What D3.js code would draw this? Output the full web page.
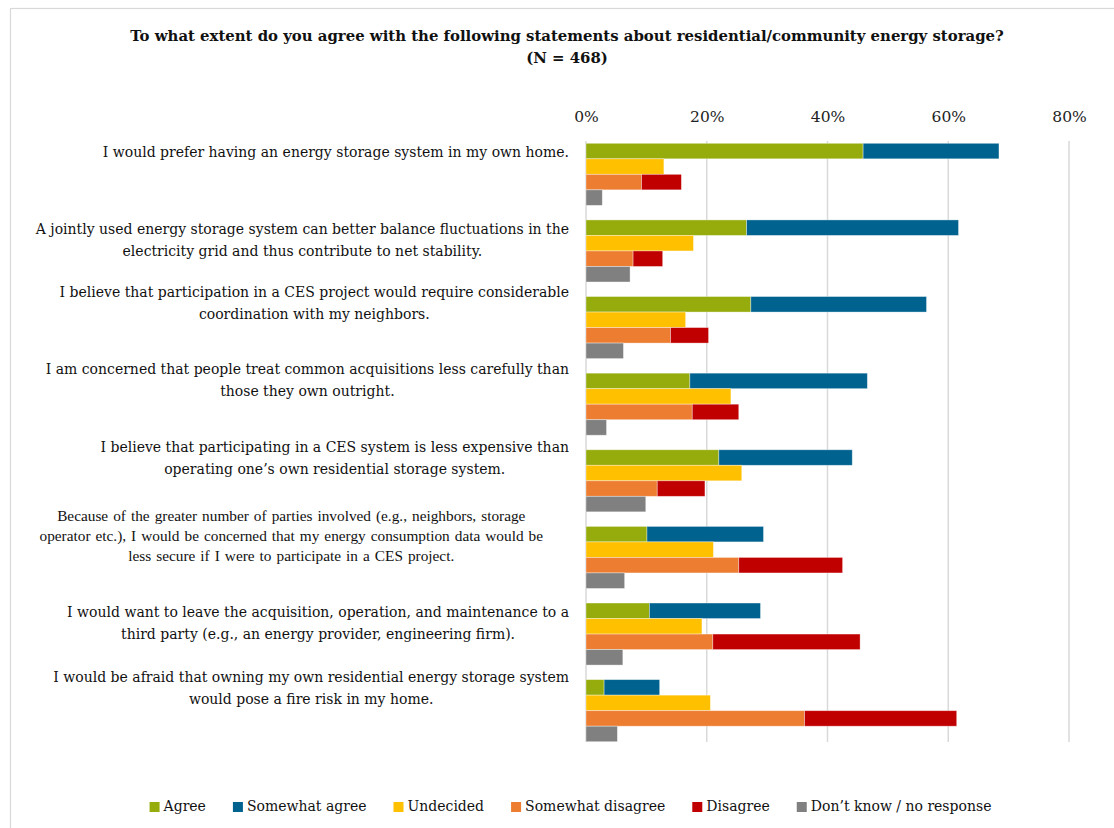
<!DOCTYPE html>
<html><head><meta charset="utf-8">
<script src="https://cdn.jsdelivr.net/npm/d3@7"></script>
<style>body{margin:0;background:#fff} svg{display:block}</style>
</head><body><svg id="c" width="1114" height="828"></svg>
<script>
// ---------- data ----------
const categories = [
  "I would prefer having an energy storage system in my own home.",
  "A jointly used energy storage system can better balance fluctuations in the\nelectricity grid and thus contribute to net stability.",
  "I believe that participation in a CES project would require considerable\ncoordination with my neighbors.",
  "I am concerned that people treat common acquisitions less carefully than\nthose they own outright.",
  "I believe that participating in a CES system is less expensive than\noperating one\u2019s own residential storage system.",
  "Because of the greater number of parties involved (e.g., neighbors, storage\noperator etc.), I would be concerned that my energy consumption data would be\nless secure if I were to participate in a CES project.",
  "I would want to leave the acquisition, operation, and maintenance to a\nthird party (e.g., an energy provider, engineering firm).",
  "I would be afraid that owning my own residential energy storage system\nwould pose a fire risk in my home."
];
const agree            = [45.9, 26.6, 27.3, 17.2, 22.0, 10.1, 10.5,  3.0];
const somewhatAgree    = [22.5, 35.1, 29.1, 29.4, 22.1, 19.3, 18.4,  9.2];
const undecided        = [12.9, 17.8, 16.5, 24.0, 25.8, 21.1, 19.2, 20.6];
const somewhatDisagree = [ 9.2,  7.8, 14.0, 17.6, 11.8, 25.3, 21.0, 36.2];
const disagree         = [ 6.6,  4.9,  6.3,  7.7,  7.9, 17.2, 24.4, 25.2];
const dontKnow         = [ 2.7,  7.3,  6.2,  3.4,  9.9,  6.4,  6.1,  5.2];
const seriesNames = ["Agree", "Somewhat agree", "Undecided", "Somewhat disagree", "Disagree", "Don\u2019t know / no response"];
const tickValues = [0, 20, 40, 60, 80];
const title = "To what extent do you agree with the following statements about residential/community energy storage?";
const subtitle = "(N = 468)";

// ---------- layout / style ----------
const colors = ["#95AC0C", "#00628F", "#FFC000", "#ED7D31", "#C00000", "#808080"];
const labelCenterOffset = [9, 20, 6.5, 7, 8, 9, 20, 8.5];
const serif = "'DejaVu Serif', serif";

const svg = d3.select("#c");
svg.append("rect").attr("x", 10.5).attr("y", 8.5).attr("width", 1130).attr("height", 840)
  .attr("fill", "#fff").attr("stroke", "#d9d9d9").attr("stroke-width", 1.2);

const x = d3.scaleLinear().domain([0, 80]).range([586, 1069]);
const y = d3.scaleBand().domain(d3.range(categories.length)).range([141, 744]).paddingInner(0.19).paddingOuter(0.03);
const row = d3.scaleBand().domain([0, 1, 2, 3]).range([0, y.bandwidth()]);

// title
svg.append("text").attr("x", 567).attr("y", 41).attr("text-anchor", "middle")
  .attr("font-family", serif).attr("font-weight", "bold").attr("font-size", 14.9).attr("fill", "#111")
  .text(title);
svg.append("text").attr("x", 567).attr("y", 63).attr("text-anchor", "middle")
  .attr("font-family", serif).attr("font-weight", "bold").attr("font-size", 14.9).attr("fill", "#111")
  .text(subtitle);

// gridlines
svg.append("g").selectAll("line").data(tickValues).join("line")
  .attr("x1", d => x(d)).attr("x2", d => x(d))
  .attr("y1", y.range()[0]).attr("y2", y.range()[1] - 2)
  .attr("stroke", "#d9d9d9").attr("stroke-width", 1.5);

// top axis labels
const axis = d3.axisTop(x).tickValues(tickValues).tickFormat(d => d + "%").tickSize(0).tickPadding(0);
const ag = svg.append("g").attr("transform", "translate(0,122)").call(axis);
ag.select(".domain").remove();
ag.selectAll("text").attr("font-family", serif).attr("font-size", 15.5).attr("fill", "#222").attr("dy", 0);

// bars
const segs = [];
categories.forEach((c, i) => {
  segs.push({i, r: 0, s: 0, v: agree[i], k: 0});
  segs.push({i, r: 0, s: agree[i], v: somewhatAgree[i], k: 1});
  segs.push({i, r: 1, s: 0, v: undecided[i], k: 2});
  segs.push({i, r: 2, s: 0, v: somewhatDisagree[i], k: 3});
  segs.push({i, r: 2, s: somewhatDisagree[i], v: disagree[i], k: 4});
  segs.push({i, r: 3, s: 0, v: dontKnow[i], k: 5});
});
svg.append("g").selectAll("rect").data(segs).join("rect")
  .attr("x", d => x(d.s)).attr("width", d => x(d.s + d.v) - x(d.s))
  .attr("y", d => y(d.i) + row(d.r)).attr("height", row.bandwidth())
  .attr("fill", d => colors[d.k])
  .attr("stroke", "#fff").attr("stroke-opacity", 0.45).attr("stroke-width", 0.8);

// category labels
categories.forEach((c, i) => {
  const lines = c.split("\n");
  const times = lines.length > 2;
  const lh = times ? 20 : 22;
  const g = svg.append("g");
  const t = g.append("text").attr("text-anchor", "middle")
    .attr("font-family", times ? "'Liberation Serif', serif" : serif)
    .attr("font-size", times ? 15.3 : 14).attr("word-spacing", times ? 1.2 : 0).attr("fill", "#111");
  const cy = y(i) + labelCenterOffset[i] - (lines.length - 1) * lh / 2;
  lines.forEach((l, j) => {
    t.append("tspan").attr("x", 0).attr("y", cy + j * lh).attr("dominant-baseline", "central").text(l);
  });
  let maxW = 0;
  t.selectAll("tspan").each(function() { maxW = Math.max(maxW, this.getComputedTextLength()); });
  const right = times ? 543 : 569;
  g.attr("transform", `translate(${right - maxW / 2},0)`);
});

// legend
const lg = svg.append("g");
let cx = 0;
seriesNames.forEach((n, k) => {
  const it = lg.append("g");
  it.append("rect").attr("width", 10).attr("height", 10).attr("y", -9).attr("fill", colors[k]);
  const tt = it.append("text").attr("x", 14).attr("y", 0).attr("font-family", serif)
    .attr("font-size", 14).attr("fill", "#111").text(n);
  const w = 14 + tt.node().getComputedTextLength();
  it.attr("transform", `translate(${cx},0)`);
  cx += w + 27;
});
const totalW = cx - 27;
lg.attr("transform", `translate(${570.5 - totalW / 2},811)`);
</script></body></html>
